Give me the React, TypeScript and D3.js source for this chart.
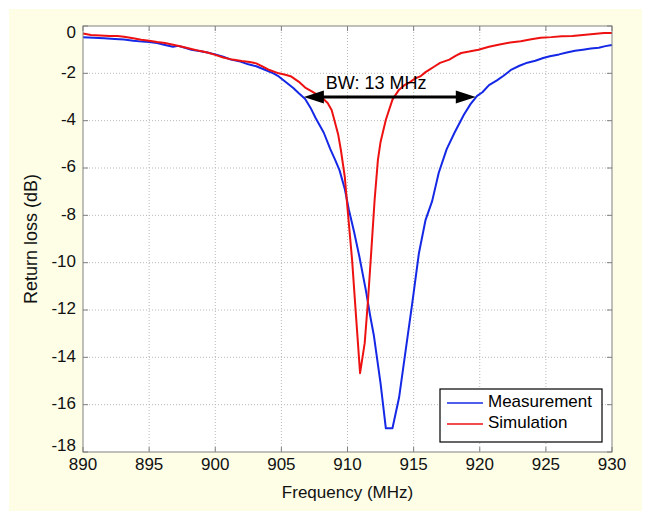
import React from "react";
import * as d3 from "d3";

const measFreq = [890.0,890.8,891.6,892.4,893.1,893.8,894.5,895.0,895.6,896.2,896.8,897.2,897.7,898.2,898.8,899.4,900.0,900.6,901.2,901.9,902.5,903.1,903.8,904.4,904.8,905.4,905.9,906.3,906.8,907.2,907.6,908.2,908.7,909.1,909.4,909.8,910.1,910.5,910.9,911.4,911.7,912.0,912.5,912.9,913.4,913.9,914.4,914.9,915.4,915.9,916.4,916.9,917.5,918.1,918.8,919.3,919.8,920.2,920.7,921.3,921.8,922.4,923.0,923.6,924.2,924.8,925.3,926.0,926.5,927.2,927.8,928.4,929.0,929.5,930.0];
const measDb = [-0.48,-0.50,-0.52,-0.55,-0.57,-0.62,-0.66,-0.68,-0.72,-0.80,-0.88,-0.84,-0.92,-1.0,-1.06,-1.12,-1.20,-1.30,-1.42,-1.50,-1.62,-1.70,-1.86,-2.0,-2.13,-2.40,-2.62,-2.83,-3.08,-3.45,-3.90,-4.50,-5.20,-5.70,-6.10,-6.90,-7.75,-8.70,-9.75,-11.2,-12.2,-13.1,-15.1,-17.0,-17.0,-15.7,-13.7,-11.7,-9.6,-8.2,-7.4,-6.2,-5.2,-4.5,-3.75,-3.3,-2.95,-2.8,-2.5,-2.3,-2.1,-1.84,-1.68,-1.55,-1.47,-1.35,-1.28,-1.20,-1.13,-1.05,-1.0,-0.95,-0.92,-0.85,-0.80];

const simFreq = [890.0,890.6,891.3,892.0,892.6,893.1,893.8,894.4,895.0,895.6,896.2,896.9,897.5,898.2,898.8,899.4,900.0,900.6,901.3,902.0,902.6,903.1,903.6,904.1,904.8,905.3,905.7,906.3,906.8,907.3,907.7,908.1,908.5,908.8,909.0,909.3,909.5,909.8,910.0,910.35,910.65,910.95,911.3,911.55,911.8,912.05,912.3,912.5,912.9,913.4,913.9,914.3,914.7,915.1,915.5,915.9,916.2,916.6,917.0,917.7,918.2,918.6,919.2,919.9,920.7,921.5,922.3,923.1,923.9,924.6,925.4,926.2,927.0,927.8,928.8,929.4,930.0];
const simDb = [-0.32,-0.38,-0.40,-0.42,-0.42,-0.45,-0.52,-0.58,-0.62,-0.68,-0.72,-0.80,-0.88,-0.97,-1.05,-1.12,-1.22,-1.33,-1.42,-1.48,-1.52,-1.58,-1.72,-1.86,-2.0,-2.06,-2.12,-2.35,-2.60,-2.76,-2.90,-3.04,-3.25,-3.55,-3.96,-4.6,-5.24,-6.4,-7.7,-9.9,-12.3,-14.67,-13.4,-11.6,-9.5,-7.35,-5.66,-4.9,-3.96,-3.11,-2.69,-2.5,-2.38,-2.22,-2.13,-1.95,-1.84,-1.70,-1.56,-1.42,-1.25,-1.14,-1.08,-1.0,-0.88,-0.78,-0.70,-0.64,-0.56,-0.50,-0.47,-0.43,-0.42,-0.38,-0.33,-0.30,-0.30];

const xTicks = [890, 895, 900, 905, 910, 915, 920, 925, 930];
const yTicks = [0, -2, -4, -6, -8, -10, -12, -14, -16, -18];
const seriesNames = ["Measurement", "Simulation"];
const bwStart = 906.7;
const bwEnd = 919.7;
const bwLevel = -3;
const bwLabel = "BW: 13 MHz";

const W = 650, H = 511;
const L = 83, R = 612, T = 26, B = 452;
const FONT = "'Liberation Sans', Arial, sans-serif";
const BLUE = "#1428e6";
const RED = "#ee1111";

export default function App() {
  const x = d3.scaleLinear().domain([890, 930]).range([L, R]);
  const y = d3.scaleLinear().domain([-18, 0]).range([B, T]);
  const line = d3.line<[number, number]>().x(d => x(d[0])).y(d => y(d[1]));
  const meas = measFreq.map((f, i) => [f, measDb[i]] as [number, number]);
  const sim = simFreq.map((f, i) => [f, simDb[i]] as [number, number]);

  const ax1 = x(bwStart), ax2 = x(bwEnd), ay = y(bwLevel);
  const hl = 20, hw = 6.5;

  const legX = 440, legY = 389, legW = 162, legH = 53;

  return (
    <svg width={W} height={H} style={{ position: "absolute", left: 0, top: 0 }} fontFamily={FONT}>
      <rect x={9} y={9} width={633} height={502} fill="#fefee7" />
      <rect x={L} y={T} width={R - L} height={B - T} fill="#ffffff" />
      {xTicks.slice(1, -1).map(t => (
        <line key={"gx" + t} x1={x(t)} x2={x(t)} y1={T} y2={B} stroke="#b8b8b8" strokeWidth={1} strokeDasharray="1,2" />
      ))}
      {yTicks.slice(1, -1).map(t => (
        <line key={"gy" + t} x1={L} x2={R} y1={y(t)} y2={y(t)} stroke="#b8b8b8" strokeWidth={1} strokeDasharray="1,2" />
      ))}
      {xTicks.map(t => (
        <g key={"tx" + t}>
          <line x1={x(t)} x2={x(t)} y1={B} y2={B - 5} stroke="#808080" />
          <line x1={x(t)} x2={x(t)} y1={T} y2={T + 5} stroke="#808080" />
          <text x={x(t)} y={B + 14} fontSize={17} textAnchor="middle" dominantBaseline="middle" fill="#111">{t}</text>
        </g>
      ))}
      {yTicks.map(t => (
        <g key={"ty" + t}>
          <line x1={L} x2={L + 5} y1={y(t)} y2={y(t)} stroke="#808080" />
          <line x1={R} x2={R - 5} y1={y(t)} y2={y(t)} stroke="#808080" />
          <text x={76} y={Math.min(Math.max(y(t), T + 8), B - 5)} fontSize={17} textAnchor="end" dominantBaseline="middle" fill="#111">{t}</text>
        </g>
      ))}
      <path d={line(meas) || ""} fill="none" stroke={BLUE} strokeWidth={2} strokeLinejoin="round" />
      <path d={line(sim) || ""} fill="none" stroke={RED} strokeWidth={2} strokeLinejoin="round" />
      <rect x={L} y={T} width={R - L} height={B - T} fill="none" stroke="#808080" strokeWidth={1} />

      <line x1={ax1 + hl - 2} x2={ax2 - hl + 2} y1={ay} y2={ay} stroke="#000" strokeWidth={3.2} />
      <path d={`M${ax1},${ay} L${ax1 + hl},${ay - hw} L${ax1 + hl},${ay + hw} Z`} fill="#000" />
      <path d={`M${ax2},${ay} L${ax2 - hl},${ay - hw} L${ax2 - hl},${ay + hw} Z`} fill="#000" />
      <text x={ax1 + 22} y={ay - 8} fontSize={18} fill="#000">{bwLabel}</text>

      <rect x={legX} y={legY} width={legW} height={legH} fill="#fff" stroke="#000" strokeWidth={1.2} />
      {seriesNames.map((n, i) => (
        <g key={n}>
          <line x1={legX + 7} x2={legX + 43} y1={legY + 14 + i * 21} y2={legY + 14 + i * 21} stroke={i === 0 ? BLUE : RED} strokeWidth={1.5} />
          <text x={legX + 48} y={legY + 14 + i * 21} fontSize={17} dominantBaseline="middle" fill="#000">{n}</text>
        </g>
      ))}

      <text x={(L + R) / 2} y={494} fontSize={17} textAnchor="middle" dominantBaseline="middle" fill="#111">Frequency (MHz)</text>
      <text transform={`translate(32,${(T + B) / 2}) rotate(-90)`} fontSize={18} textAnchor="middle" dominantBaseline="middle" fill="#111">Return loss (dB)</text>
    </svg>
  );
}
